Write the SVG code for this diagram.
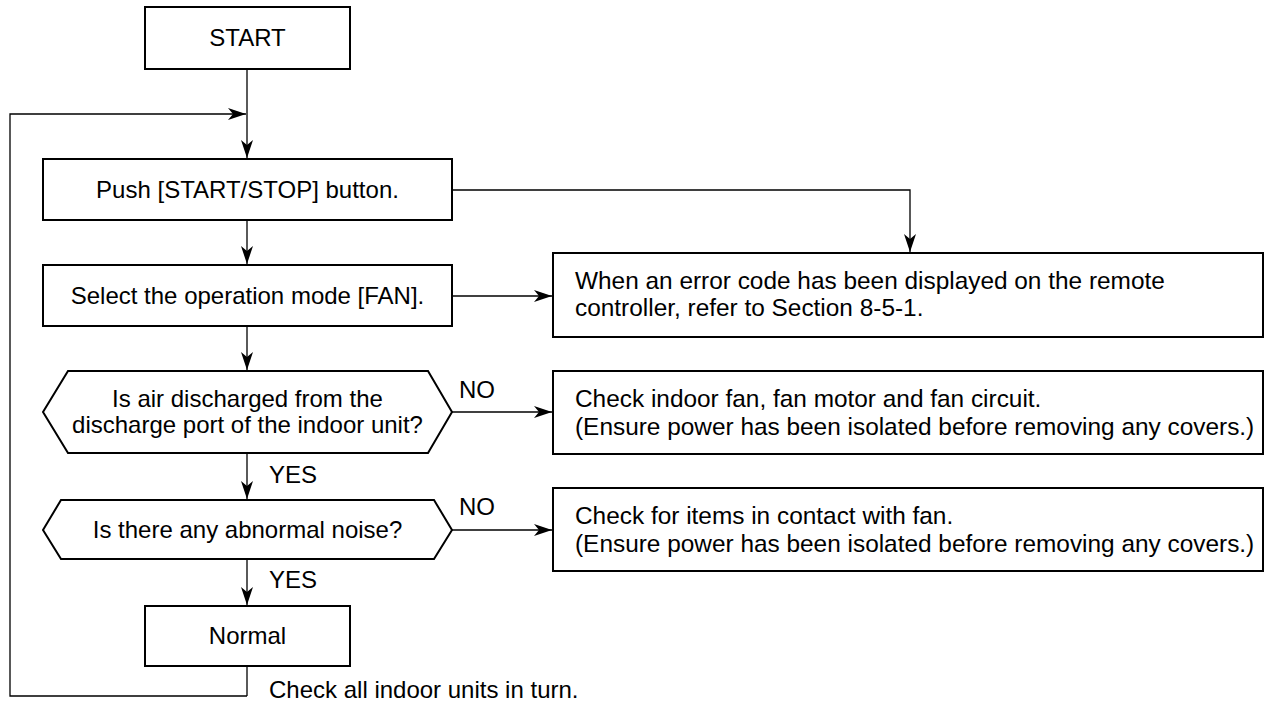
<svg xmlns="http://www.w3.org/2000/svg" width="1265" height="702" viewBox="0 0 1265 702">
<style>
.box{fill:#fff;stroke:#000;stroke-width:2}
.ln{fill:none;stroke:#000;stroke-width:1.3}
text{font-family:"Liberation Sans",Arial,sans-serif;font-size:24px;fill:#000}
.r{font-size:24.4px}
.c{text-anchor:middle}
</style>
<defs>
<marker id="ah" viewBox="0 0 18 12" refX="18" refY="6" markerWidth="18" markerHeight="12" markerUnits="userSpaceOnUse" orient="auto">
<path d="M0,0 L18,6 L0,12 L5,6 Z" fill="#000"/>
</marker>
</defs>
<rect width="1265" height="702" fill="#fff"/>
<g id="connectors">
<path class="ln" d="M247,69 V158" marker-end="url(#ah)"/>
<path class="ln" d="M247,696 H10 V114 H246" marker-end="url(#ah)"/>
<path class="ln" d="M247,666 V696"/>
<path class="ln" d="M247,220 V264" marker-end="url(#ah)"/>
<path class="ln" d="M452,190 H910 V252" marker-end="url(#ah)"/>
<path class="ln" d="M452,296 H552" marker-end="url(#ah)"/>
<path class="ln" d="M247,326 V370" marker-end="url(#ah)"/>
<path class="ln" d="M452,412 H552" marker-end="url(#ah)"/>
<path class="ln" d="M247,453 V499" marker-end="url(#ah)"/>
<path class="ln" d="M452,530 H552" marker-end="url(#ah)"/>
<path class="ln" d="M247,559 V605" marker-end="url(#ah)"/>
<text x="459" y="398">NO</text>
<text x="459" y="515">NO</text>
<text x="269" y="483">YES</text>
<text x="269" y="588">YES</text>
<text x="269" y="698">Check all indoor units in turn.</text>
</g>
<g id="start">
<rect class="box" x="145" y="7" width="205" height="62"/>
<text class="c" x="247.5" y="46">START</text>
</g>
<g id="push">
<rect class="box" x="43" y="159" width="409" height="61"/>
<text class="c" x="247.5" y="198">Push [START/STOP] button.</text>
</g>
<g id="select">
<rect class="box" x="43" y="265" width="409" height="61"/>
<text class="c" x="247.5" y="304">Select the operation mode [FAN].</text>
</g>
<g id="q-air">
<polygon class="box" points="68,371 428,371 452,412 428,453 68,453 43,412"/>
<text class="c" x="247.5" y="407">Is air discharged from the</text>
<text class="c" x="247.5" y="433">discharge port of the indoor unit?</text>
</g>
<g id="q-noise">
<polygon class="box" points="61,500 434,500 452,530 434,559 61,559 43,530"/>
<text class="c" x="247.5" y="538">Is there any abnormal noise?</text>
</g>
<g id="normal">
<rect class="box" x="145" y="606" width="205" height="60"/>
<text class="c" x="247.5" y="644">Normal</text>
</g>
<g id="error">
<rect class="box" x="553" y="253" width="710" height="84"/>
<text class="r" x="575" y="289">When an error code has been displayed on the remote</text>
<text class="r" x="575" y="316">controller, refer to Section 8-5-1.</text>
</g>
<g id="fan-check">
<rect class="box" x="553" y="371" width="710" height="83"/>
<text class="r" x="575" y="407">Check indoor fan, fan motor and fan circuit.</text>
<text class="r" x="575" y="435">(Ensure power has been isolated before removing any covers.)</text>
</g>
<g id="contact-check">
<rect class="box" x="553" y="488" width="710" height="83"/>
<text class="r" x="575" y="524">Check for items in contact with fan.</text>
<text class="r" x="575" y="552">(Ensure power has been isolated before removing any covers.)</text>
</g>
</svg>
